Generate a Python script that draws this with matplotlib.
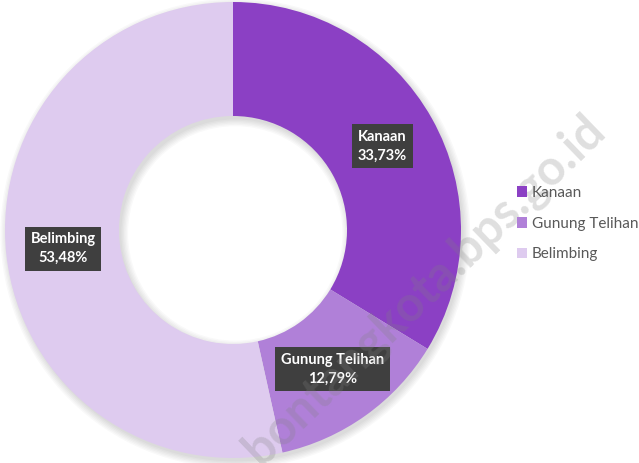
import numpy as np
import matplotlib.pyplot as plt

# Data -----------------------------------------------------------------
labels = ['Kanaan', 'Gunung Telihan', 'Belimbing']
values = [33.73, 12.79, 53.48]
pct_text = ['33,73%', '12,79%', '53,48%']
colors = ['#8B40C4', '#B080D8', '#DECBEF']

plt.rcParams['font.family'] = ['Lato', 'DejaVu Sans']

fig = plt.figure(figsize=(6.39, 4.63), dpi=100)
ax = fig.add_axes([5 / 639, 5 / 463, 456 / 639, 456 / 463])
ax.set_aspect('equal')

# soft shadow around the ring
for k in range(6):
    ax.pie([1], radius=1.0 + 0.006 * k, colors=['#000000'],
           wedgeprops=dict(width=0.5 + 0.012 * k, alpha=0.025, linewidth=0),
           center=(0.01, -0.015))

wedges, _ = ax.pie(values, colors=colors, startangle=90, counterclock=False,
                   radius=1.0, wedgeprops=dict(width=0.5, linewidth=0))

# data labels in dark boxes
for w, name, pct in zip(wedges, labels, pct_text):
    ang = np.deg2rad((w.theta1 + w.theta2) / 2)
    x, y = 0.75 * np.cos(ang), 0.75 * np.sin(ang)
    ax.text(x, y, name + '\n' + pct, ha='center', va='center', color='white',
            fontsize=10.5, fontweight='bold', linespacing=1.4,
            bbox=dict(boxstyle='square,pad=0.4', fc='#3F3F3F', ec='none'))

ax.set_xlim(-1.0, 1.0)
ax.set_ylim(-1.0, 1.0)
ax.axis('off')

# legend
fig.legend(wedges, labels, loc='upper left', bbox_to_anchor=(503 / 639, 1 - 172 / 463),
           frameon=False, fontsize=11, handlelength=0.7, handleheight=0.7,
           handletextpad=0.3, labelspacing=1.1, labelcolor='#595959')

# watermark
fig.text(424 / 639, 1 - 290 / 463, 'bontangkota.bps.go.id', rotation=44,
         ha='center', va='center', fontsize=35, fontweight='bold',
         color='#808080', alpha=0.25)

fig.savefig('out.png', dpi=100)
